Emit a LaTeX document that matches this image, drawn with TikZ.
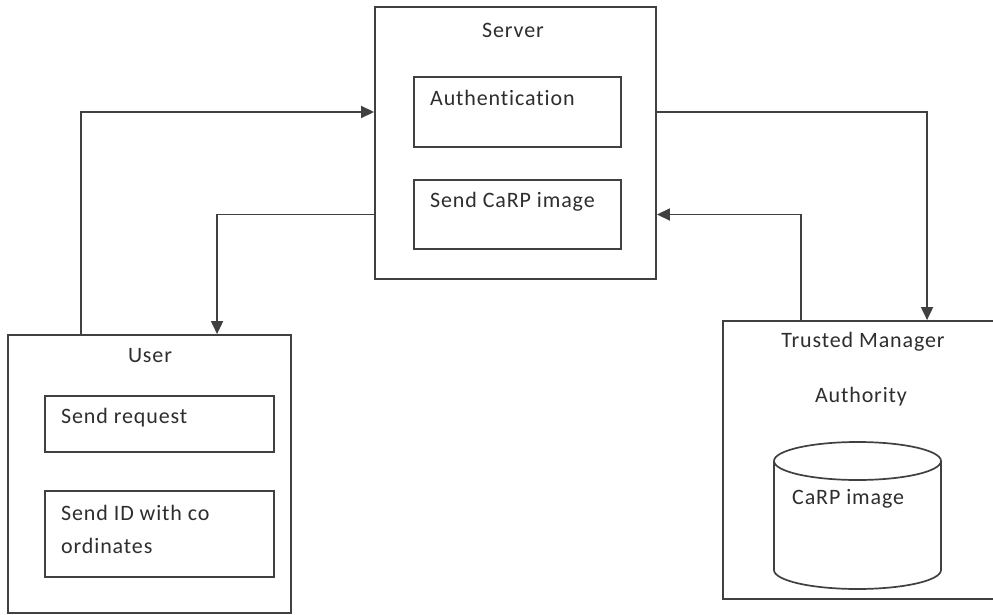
\documentclass[tikz,border=0pt]{standalone}
\usepackage{fontspec}
\setmainfont{Carlito}[Ligatures=NoCommon, LetterSpace=4]
\usetikzlibrary{arrows.meta}
\definecolor{ln}{HTML}{404040}
\definecolor{tx}{HTML}{2E2E2E}
\tikzset{
  box/.style={draw=ln, line width=1.9pt, rectangle, inner sep=0pt},
  lbl/.style={text=tx, font=\fontsize{22}{33}\selectfont, inner sep=0pt},
  arr/.style={draw=ln, line width=1.8pt, -{Triangle[length=13pt,width=12pt]}},
}
\begin{document}
\begin{tikzpicture}[x=1pt,y=-1pt]
\useasboundingbox (0,0) rectangle (993,615);
\clip (0,0) rectangle (993,615);
\fill[white] (0,0) rectangle (993,615);

% Server
\node[box, minimum width=281pt, minimum height=272pt] (server) at (515.5,143) {};
\node[lbl] (servert) at (513,30) {Server};
\node[box, minimum width=207pt, minimum height=70pt] (auth) at (517.5,112) {};
\node[lbl, anchor=west] (autht) at (430,98) {Authentication};
\node[box, minimum width=207pt, minimum height=69pt] (send) at (517.5,214.5) {};
\node[lbl, anchor=west] (sendt) at (430,202) {Send CaRP image};

% User
\node[box, minimum width=283pt, minimum height=278pt] (user) at (149.5,474) {};
\node[lbl] (usert) at (150,356) {User};
\node[box, minimum width=229pt, minimum height=56pt] (req) at (159.5,424) {};
\node[lbl, anchor=west] (reqt) at (61,418) {Send request};
\node[box, minimum width=229pt, minimum height=86pt] (sid) at (159.5,534) {};
\node[lbl, anchor=west, align=left] (sidt) at (61,529.5) {Send ID with co\\ordinates};

% Trusted Manager
\node[box, minimum width=277pt, minimum height=278pt] (tm) at (861.5,460) {};
\node[lbl] (tmt) at (863,342) {Trusted Manager};
\node[lbl] (autht2) at (861,397) {Authority};
\draw[ln, line width=1.7pt] (857.5,461) ellipse [x radius=83.5pt, y radius=19pt];
\draw[ln, line width=1.7pt] (774,461) -- (774,570)
  arc[start angle=180, end angle=360, x radius=83.5pt, y radius=19pt] -- (941,461);
\node[lbl, anchor=west] (dbt) at (792,499) {CaRP image};

% connectors
\draw[arr] ([xshift=74pt]user.north west) |- (server.west |- auth);
\draw[arr] (server.west |- send) -| ([xshift=210pt]user.north west);
\draw[arr] (server.east |- auth) -| ([xshift=205pt]tm.north west);
\draw[arr] ([xshift=79pt]tm.north west) |- (server.east |- send);
\end{tikzpicture}
\end{document}
